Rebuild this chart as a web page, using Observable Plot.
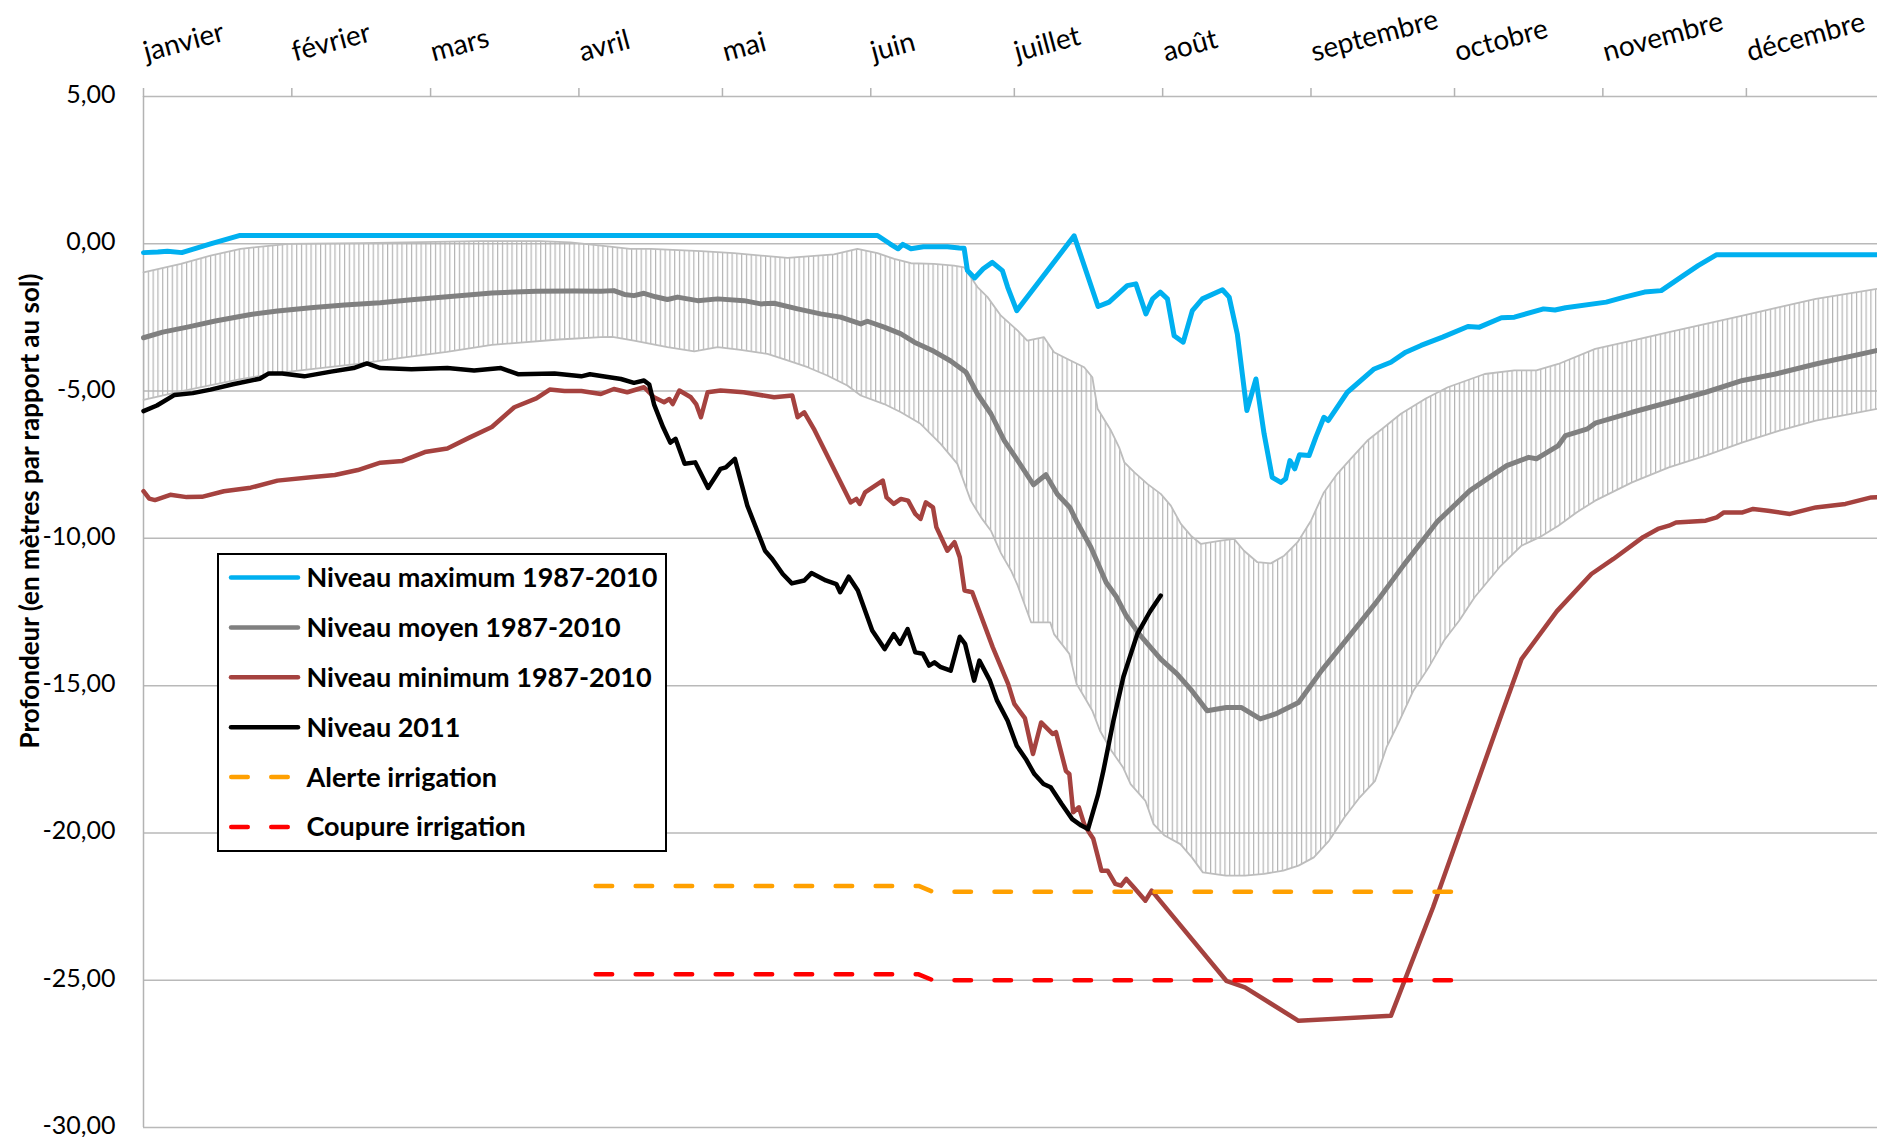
<!DOCTYPE html>
<html><head><meta charset="utf-8">
<script src="https://cdn.jsdelivr.net/npm/d3@7"></script>
<script src="https://cdn.jsdelivr.net/npm/@observablehq/plot@0.6"></script>
<style>
html,body{margin:0;padding:0;background:#fff;}
#wrap{position:relative;width:1877px;height:1137px;overflow:hidden;font-family:Lato,"Noto Sans",sans-serif;}
#legend{position:absolute;left:217px;top:553px;}
</style></head><body><div id="wrap"></div>
<script>
// ---- categories / ticks ----
const monthNames = ["janvier","février","mars","avril","mai","juin","juillet","août","septembre","octobre","novembre","décembre"];
const monthStartDays = [0,31,60,91,121,152,182,213,244,274,305,335];
const yTicks = [5,0,-5,-10,-15,-20,-25,-30];
const yTitle = "Profondeur (en mètres par rapport au sol)";

// ---- series: [day of year, depth in m] ----
const niveauMax = [[0,-0.30],[3,-0.28],[5,-0.25],[8,-0.30],[14,0.0],[20,0.28],[153.4,0.28],[156,0.0],[157.7,-0.17],[158.7,-0.02],[160.4,-0.17],[163,-0.10],[168,-0.10],[170.5,-0.14],[171.5,-0.15],[172.2,-0.91],[173.7,-1.16],[175.5,-0.85],[177.4,-0.63],[179.5,-0.91],[180.6,-1.47],[182.5,-2.27],[194.5,0.27],[199.5,-2.13],[201.8,-1.98],[205.6,-1.42],[207.4,-1.36],[209.5,-2.38],[210.9,-1.87],[212.5,-1.64],[214,-1.87],[215.4,-3.12],[217.3,-3.34],[219.2,-2.27],[221.3,-1.87],[225.5,-1.56],[226.9,-1.81],[228.6,-3.06],[230.6,-5.66],[232.5,-4.59],[234.2,-6.45],[235.9,-7.93],[237.7,-8.10],[238.7,-7.98],[239.6,-7.36],[240.6,-7.64],[241.6,-7.16],[243.6,-7.19],[245,-6.57],[246.7,-5.89],[247.6,-6.0],[251.6,-5.04],[257.2,-4.25],[260.7,-4.02],[263.8,-3.68],[267,-3.45],[271.5,-3.17],[276.8,-2.81],[279.2,-2.83],[283.8,-2.51],[286.5,-2.49],[292.6,-2.21],[295,-2.25],[297.2,-2.17],[305.7,-1.98],[309.5,-1.81],[313.7,-1.64],[317.2,-1.59],[321.8,-1.08],[324.9,-0.74],[328.8,-0.37],[362.4,-0.37]];

const niveauMoyen = [[0,-3.19],[4,-3.0],[9.4,-2.82],[15,-2.62],[22.4,-2.40],[28,-2.28],[35.5,-2.16],[42,-2.08],[49.5,-2.0],[56,-1.90],[63.5,-1.80],[72.8,-1.67],[82.1,-1.61],[90,-1.60],[95.6,-1.61],[98.3,-1.59],[100.5,-1.72],[102.5,-1.76],[104.6,-1.68],[107,-1.80],[109.5,-1.89],[111.6,-1.81],[115.8,-1.93],[120,-1.87],[125.5,-1.93],[129,-2.04],[131.8,-2.02],[136.7,-2.21],[141.5,-2.38],[145.7,-2.49],[149.9,-2.72],[151.3,-2.63],[154.8,-2.83],[158.3,-3.06],[161.1,-3.34],[165.2,-3.65],[168.7,-3.98],[171.9,-4.36],[174.3,-5.1],[177.1,-5.77],[179.9,-6.68],[183.4,-7.53],[186,-8.18],[188.6,-7.84],[191,-8.5],[193.6,-8.95],[195.2,-9.48],[198,-10.3],[201.2,-11.5],[203.4,-12.0],[205.3,-12.6],[208.1,-13.25],[212.6,-14.1],[216,-14.6],[219.1,-15.17],[222.3,-15.85],[226.3,-15.74],[229.4,-15.74],[233.4,-16.13],[236.6,-15.96],[241.4,-15.57],[246.2,-14.49],[251.8,-13.36],[257.5,-12.2],[263.4,-10.9],[270.3,-9.45],[277.2,-8.38],[284.9,-7.53],[289.5,-7.25],[291.1,-7.30],[295.7,-6.85],[297.2,-6.51],[301.8,-6.28],[303.4,-6.09],[311.1,-5.72],[318.8,-5.38],[326.5,-5.04],[334.2,-4.64],[341.1,-4.42],[349.5,-4.08],[362.4,-3.62]];

// error-bar envelope of the mean (upper and lower bar ends)
const ecartHaut = [[0,-0.97],[7.8,-0.68],[14,-0.4],[20.3,-0.17],[30.3,0.0],[45.4,0.02],[70.4,0.09],[82.9,0.09],[89.2,0.05],[95.6,-0.06],[101.7,-0.17],[106,-0.17],[116.5,-0.25],[123.4,-0.32],[134.6,-0.48],[138.8,-0.43],[144.3,-0.36],[149.2,-0.17],[153.4,-0.32],[156.9,-0.51],[160.4,-0.66],[165.2,-0.68],[169.4,-0.74],[171.5,-0.80],[174.3,-1.47],[176.4,-1.81],[179.2,-2.44],[182.7,-2.95],[184.7,-3.29],[188.2,-3.17],[190.3,-3.68],[193.1,-3.91],[196.6,-4.19],[198.3,-4.53],[199.4,-5.60],[202.2,-6.34],[203.9,-6.91],[205,-7.42],[207.1,-7.76],[209.8,-8.15],[212.6,-8.49],[214.7,-8.89],[216.8,-9.51],[218.9,-9.91],[221,-10.19],[225.2,-10.08],[227.9,-10.02],[230,-10.42],[232.8,-10.81],[235.6,-10.85],[238.4,-10.59],[241.2,-10.13],[244,-9.40],[246.7,-8.44],[249.5,-7.81],[252.3,-7.30],[255.8,-6.68],[259.3,-6.23],[262.8,-5.77],[268,-5.25],[272.6,-4.87],[280.3,-4.42],[286.5,-4.30],[291.1,-4.30],[295.7,-4.08],[303.4,-3.57],[311.1,-3.29],[318.8,-3.0],[326.5,-2.72],[334.2,-2.44],[341.9,-2.15],[349.5,-1.87],[362.4,-1.53]];

const ecartBas = [[0,-5.3],[8,-5.0],[20,-4.6],[30,-4.35],[44.8,-4.08],[55,-3.85],[63.4,-3.67],[72.8,-3.43],[86.8,-3.25],[95.6,-3.17],[98,-3.16],[102.5,-3.29],[109.5,-3.51],[115.1,-3.65],[120,-3.51],[124.8,-3.60],[130.4,-3.74],[134.6,-3.96],[138.8,-4.19],[142.9,-4.47],[147.1,-4.81],[149.9,-5.15],[154.8,-5.44],[158.3,-5.72],[162.4,-6.11],[166.6,-6.79],[170.1,-7.47],[172.9,-8.72],[175,-9.28],[177.1,-9.74],[179.2,-10.5],[181.3,-11.09],[182.7,-11.6],[185.5,-12.85],[189.5,-12.85],[190.3,-13.25],[193.5,-13.92],[195,-14.94],[196.7,-15.40],[198.3,-15.85],[199.9,-16.53],[202.3,-17.21],[204.7,-17.77],[206.3,-18.34],[209.4,-18.91],[211.1,-19.70],[213.4,-20.09],[216.7,-20.38],[219.1,-20.83],[221.4,-21.34],[226.2,-21.45],[230.2,-21.45],[234.2,-21.39],[238.2,-21.28],[241.4,-21.11],[244.6,-20.83],[247.8,-20.26],[251,-19.47],[254.2,-18.79],[257.4,-18.23],[259.8,-17.09],[262.2,-16.30],[265.4,-15.17],[268.6,-14.38],[271.8,-13.47],[275,-12.79],[278.2,-12.0],[283.4,-10.98],[288,-10.25],[291.8,-9.96],[295.7,-9.57],[299.5,-9.12],[303.4,-8.72],[311.1,-8.10],[318.8,-7.59],[326.5,-7.19],[334.2,-6.74],[341.9,-6.34],[349.5,-6.0],[362.4,-5.60]];

const niveauMin = [[0,-8.40],[1.2,-8.65],[2.4,-8.70],[5.6,-8.52],[9,-8.6],[12.2,-8.59],[16.8,-8.40],[22.4,-8.28],[28,-8.04],[35.5,-7.92],[40,-7.85],[44.8,-7.68],[49.5,-7.43],[54.1,-7.37],[58.8,-7.07],[63.5,-6.95],[68.1,-6.58],[72.8,-6.22],[77.5,-5.55],[82.1,-5.25],[84.9,-4.95],[88,-5.0],[91.5,-5.0],[95.6,-5.10],[98.3,-4.93],[101.1,-5.04],[104.6,-4.87],[106.7,-5.21],[108.8,-5.38],[109.9,-5.27],[110.6,-5.44],[112,-4.98],[114.4,-5.21],[115.5,-5.44],[116.5,-5.89],[117.9,-5.04],[120.6,-4.98],[125.4,-5.04],[131.8,-5.21],[135.6,-5.15],[136.7,-5.89],[138.1,-5.72],[140.1,-6.28],[147.8,-8.78],[149,-8.66],[149.7,-8.83],[150.8,-8.44],[154.5,-8.04],[155.3,-8.61],[156.8,-8.83],[158.3,-8.66],[159.8,-8.72],[161.3,-9.17],[162.4,-9.34],[163.5,-8.78],[165,-8.95],[165.7,-9.62],[168,-10.42],[169.5,-10.13],[170.6,-10.64],[171.6,-11.77],[173.2,-11.83],[177.5,-13.7],[180.7,-14.94],[182,-15.62],[184.2,-16.1],[185.3,-16.9],[185.9,-17.32],[187.6,-16.25],[190,-16.64],[190.7,-16.58],[192.8,-17.9],[193.5,-18.0],[194.3,-19.3],[195.5,-19.13],[196.6,-19.70],[197.5,-19.95],[198.5,-20.2],[199.5,-20.83],[200.2,-21.28],[201.5,-21.28],[203.1,-21.73],[204.3,-21.79],[205.4,-21.56],[207,-21.85],[209.4,-22.30],[210.7,-21.96],[226.3,-25.02],[230.2,-25.24],[241.4,-26.38],[260.7,-26.21],[269.5,-22.53],[283.6,-16.08],[288,-14.1],[295.4,-12.47],[302.6,-11.21],[307.2,-10.70],[313.4,-9.96],[316.5,-9.68],[318.8,-9.57],[320.3,-9.46],[326.5,-9.40],[328.8,-9.29],[330.3,-9.12],[334.2,-9.12],[336.4,-9.0],[339.5,-9.06],[344.1,-9.17],[349.5,-8.95],[355.7,-8.83],[361.1,-8.61],[362.4,-8.6]];

const niveau2011 = [[0,-5.68],[2.8,-5.49],[6.5,-5.13],[10.3,-5.07],[14,-4.95],[18.7,-4.77],[24.3,-4.58],[26.2,-4.40],[29,-4.40],[33.6,-4.50],[39.2,-4.34],[43.9,-4.22],[46.7,-4.06],[49.5,-4.22],[56,-4.26],[63.5,-4.22],[69.1,-4.30],[74.7,-4.22],[78.4,-4.43],[85.9,-4.40],[91.5,-4.50],[93.3,-4.43],[96,-4.50],[99.8,-4.59],[102.5,-4.72],[104.6,-4.64],[105.7,-4.78],[106.7,-5.45],[108.6,-6.23],[110.1,-6.75],[111.2,-6.62],[113.1,-7.47],[115.3,-7.42],[118,-8.29],[120.6,-7.64],[121.7,-7.59],[123.6,-7.30],[126.2,-8.89],[129.9,-10.42],[131.4,-10.70],[133.6,-11.21],[135.5,-11.53],[138.1,-11.43],[139.6,-11.18],[142.6,-11.43],[144.8,-11.55],[145.6,-11.83],[147.4,-11.30],[149.3,-11.77],[152.3,-13.13],[154.9,-13.76],[156.8,-13.25],[158.1,-13.58],[159.7,-13.08],[161.3,-13.87],[162.9,-13.92],[164.2,-14.32],[165.3,-14.21],[166.5,-14.36],[168.7,-14.49],[170.6,-13.34],[171.7,-13.58],[173.6,-14.83],[174.7,-14.15],[176.9,-14.83],[178.4,-15.51],[180.6,-16.19],[182.5,-17.04],[184.4,-17.49],[186.2,-18.0],[188.1,-18.34],[189.6,-18.45],[191.9,-19.02],[194.1,-19.53],[196,-19.75],[197.4,-19.87],[199.5,-18.7],[200.6,-17.9],[202.7,-16.2],[204.8,-14.7],[207.7,-13.25],[210.3,-12.5],[212.6,-11.94]];

const alerteIrrigation = [[94.5,-21.8],[162,-21.8],[165,-22.0],[275,-22.0]];
const coupureIrrigation = [[94.5,-24.8],[162,-24.8],[165,-25.0],[275,-25.0]];

const legendItems = [
  {label:"Niveau maximum 1987-2010", color:"#00B0F0", dash:null},
  {label:"Niveau moyen 1987-2010", color:"#808080", dash:null},
  {label:"Niveau minimum 1987-2010", color:"#A5423F", dash:null},
  {label:"Niveau 2011", color:"#000000", dash:null},
  {label:"Alerte irrigation", color:"#FFA000", dash:"16.5,23.5"},
  {label:"Coupure irrigation", color:"#FF0000", dash:"16.5,23.5"}
];

const fmt = d => d.toFixed(2).replace(".", ",");
const envelopePolygon = ecartHaut.concat(ecartBas.slice().reverse());
const X = d => d[0], Y = d => d[1];

const chart = Plot.plot({
  width: 1877, height: 1137,
  marginLeft: 143, marginRight: 0, marginTop: 96, marginBottom: 10,
  style: {fontFamily: "Lato, 'Noto Sans', sans-serif", fontSize: "26px", color: "#000", background: "#fff"},
  x: {type: "linear", domain: [0, 362.4], axis: null},
  y: {domain: [-30, 5], axis: null},
  marks: [
    Plot.gridY(yTicks, {stroke: "#b9b9b9", strokeOpacity: 1, strokeWidth: 1.5}),
    Plot.ruleX([0], {stroke: "#b3b3b3", strokeWidth: 1.5}),
    Plot.axisX({anchor: "top", ticks: monthStartDays, tickSize: 9, tickFormat: () => "", stroke: "#b3b3b3", strokeWidth: 1.5, label: null}),
    Plot.text(monthStartDays, {x: d => d, y: () => 5, text: (d, i) => monthNames[i], textAnchor: "start", lineAnchor: "bottom", rotate: -15, dx: 3, dy: -35, fontSize: 28, fill: "#000"}),
    Plot.axisY({ticks: yTicks, tickSize: 0, tickPadding: 28, tickFormat: fmt, label: null, fontSize: 25, dy: -1.5, fill: "#000"}),
    // error bars of the mean: hatched band + caps
    Plot.line(envelopePolygon, {x: X, y: Y, fill: "url(#hatch)", stroke: "none", curve: "linear-closed"}),
    Plot.line(ecartHaut, {x: X, y: Y, stroke: "#bdbdbd", strokeWidth: 1.8}),
    Plot.line(ecartBas, {x: X, y: Y, stroke: "#bdbdbd", strokeWidth: 1.8}),
    Plot.line(niveauMax, {x: X, y: Y, stroke: "#00B0F0", strokeWidth: 5, strokeLinejoin: "round", strokeLinecap: "round"}),
    Plot.line(niveauMoyen, {x: X, y: Y, stroke: "#808080", strokeWidth: 5, strokeLinejoin: "round", strokeLinecap: "round"}),
    Plot.line(niveauMin, {x: X, y: Y, stroke: "#A5423F", strokeWidth: 4.5, strokeLinejoin: "round", strokeLinecap: "round"}),
    Plot.line(niveau2011, {x: X, y: Y, stroke: "#000", strokeWidth: 4.5, strokeLinejoin: "round", strokeLinecap: "round"}),
    Plot.line(alerteIrrigation, {x: X, y: Y, stroke: "#FFA000", strokeWidth: 4.5, strokeDasharray: "16.5,23.5", strokeLinecap: "round", strokeLinejoin: "round"}),
    Plot.line(coupureIrrigation, {x: X, y: Y, stroke: "#FF0000", strokeWidth: 4.5, strokeDasharray: "16.5,23.5", strokeLinecap: "round", strokeLinejoin: "round"})
  ]
});

// hatch pattern for the daily error bars
const dayPx = (1877 - 143) / 362.4;
const svg = d3.select(chart);
svg.insert("defs", ":first-child").html(
  `<pattern id="hatch" patternUnits="userSpaceOnUse" x="142.5" y="0" width="${dayPx}" height="20">
     <rect x="0" y="0" width="1.2" height="20" fill="#b4b4b4"></rect>
   </pattern>`);

// y-axis title
svg.append("text")
  .attr("transform", "translate(30,511) rotate(-90)")
  .attr("text-anchor", "middle").attr("dy", "0.35em")
  .attr("font-family", "Lato, 'Noto Sans', sans-serif").attr("font-weight", "bold")
  .attr("font-size", 26).attr("fill", "#000").text(yTitle);

document.getElementById("wrap").appendChild(chart);

// legend (inside the plot area)
const lg = d3.select("#wrap").append("svg").attr("id", "legend")
  .attr("width", 451).attr("height", 300);
lg.append("rect").attr("x", 1).attr("y", 1).attr("width", 448).attr("height", 297)
  .attr("fill", "#fff").attr("stroke", "#000").attr("stroke-width", 2);
legendItems.forEach((it, i) => {
  const cy = 24.5 + i * 49.9;
  const ln = lg.append("line").attr("y1", cy).attr("y2", cy)
    .attr("stroke", it.color).attr("stroke-width", 4.5).attr("stroke-linecap", "round");
  if (it.dash) ln.attr("x1", 14.25).attr("x2", 70.75).attr("stroke-dasharray", it.dash);
  else ln.attr("x1", 14).attr("x2", 81);
  lg.append("text").attr("x", 89.5).attr("y", cy).attr("dy", "0.35em")
    .attr("font-family", "Lato, 'Noto Sans', sans-serif").attr("font-weight", "bold")
    .attr("font-size", 27).attr("fill", "#000").text(it.label);
});
</script></body></html>
